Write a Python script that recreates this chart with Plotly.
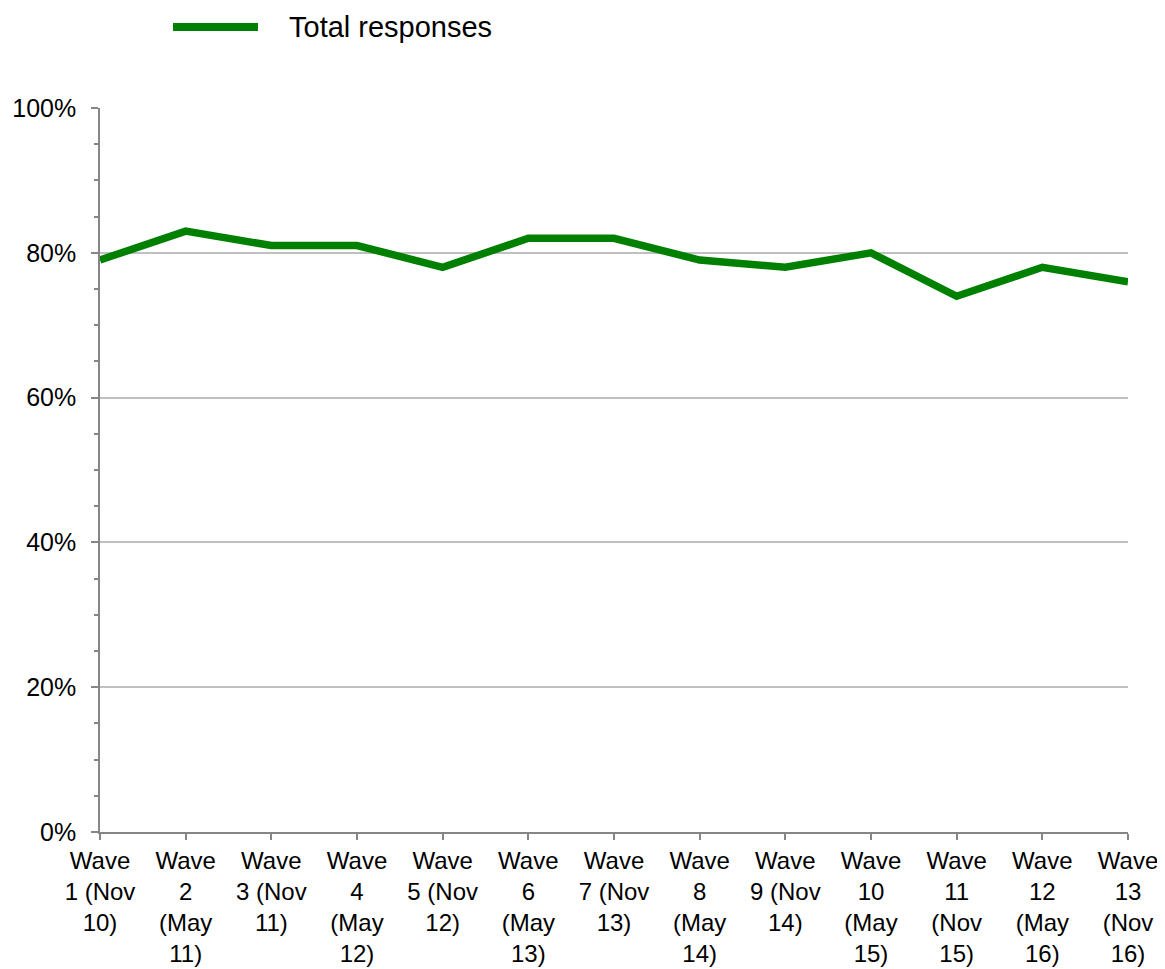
import plotly.graph_objects as go

categories = [
    "Wave<br>1 (Nov<br>10)", "Wave<br>2<br>(May<br>11)", "Wave<br>3 (Nov<br>11)",
    "Wave<br>4<br>(May<br>12)", "Wave<br>5 (Nov<br>12)", "Wave<br>6<br>(May<br>13)",
    "Wave<br>7 (Nov<br>13)", "Wave<br>8<br>(May<br>14)", "Wave<br>9 (Nov<br>14)",
    "Wave<br>10<br>(May<br>15)", "Wave<br>11<br>(Nov<br>15)", "Wave<br>12<br>(May<br>16)",
    "Wave<br>13<br>(Nov<br>16)",
]
total_responses = [79, 83, 81, 81, 78, 82, 82, 79, 78, 80, 74, 78, 76]
series_name = "Total responses"
y_tickvals = [0, 20, 40, 60, 80, 100]
y_ticktext = ["0%", "20%", "40%", "60%", "80%", "100%"]

x_pos = list(range(len(categories)))
GREEN = "#008000"
FONT = "Liberation Sans, Arial, sans-serif"

# page body has an 8px margin; compensate so plot area lands at x 100..1128, y 108..832
OFF = 8
W, H = 1165 - OFF, 969 - OFF
L, R, T, B = 100 - OFF, 37, 108 - OFF, 137
PW, PH = W - L - R, H - T - B

fig = go.Figure()
fig.add_trace(go.Scatter(
    x=x_pos, y=total_responses, mode="lines", name=series_name,
    line=dict(color=GREEN, width=7.5), cliponaxis=False, showlegend=False,
))

fig.update_layout(
    width=W, height=H,
    margin=dict(l=L, r=R, t=T, b=B, pad=0),
    plot_bgcolor="white", paper_bgcolor="white",
    font=dict(family=FONT, size=25, color="black"),
    showlegend=False,
)
fig.update_xaxes(
    range=[0, 12], tickvals=x_pos, ticktext=categories,
    showgrid=False, zeroline=False, automargin=False,
    showline=True, linecolor="#868686", linewidth=1.5,
    ticks="outside", ticklen=6, tickcolor="#868686", tickwidth=1.5,
    tickfont=dict(size=24), tickangle=0, ticklabelstandoff=0,
)
fig.update_yaxes(
    range=[0, 100], tickvals=y_tickvals, ticktext=y_ticktext,
    showgrid=True, gridcolor="#c0c0c0", gridwidth=1.5,
    zeroline=False, automargin=False,
    showline=True, linecolor="#868686", linewidth=1.5,
    ticks="outside", ticklen=7, tickcolor="#868686", tickwidth=1.5,
    minor=dict(dtick=5, ticks="outside", ticklen=4, tickcolor="#868686", tickwidth=1.5, showgrid=False),
    tickfont=dict(size=25), ticklabelstandoff=10,
)

# Legend drawn manually (long line swatch)
ly = 1 + (108 - 27) / PH
fig.add_shape(type="line", xref="paper", yref="paper",
              x0=(173 - 100) / PW, x1=(258 - 100) / PW, y0=ly, y1=ly,
              line=dict(color=GREEN, width=8))
fig.add_annotation(text=series_name, xref="paper", yref="paper",
                   x=(287 - 100) / PW, y=ly,
                   xanchor="left", yanchor="middle", showarrow=False,
                   font=dict(size=29, family=FONT, color="black"))

fig.write_html("out.html")
